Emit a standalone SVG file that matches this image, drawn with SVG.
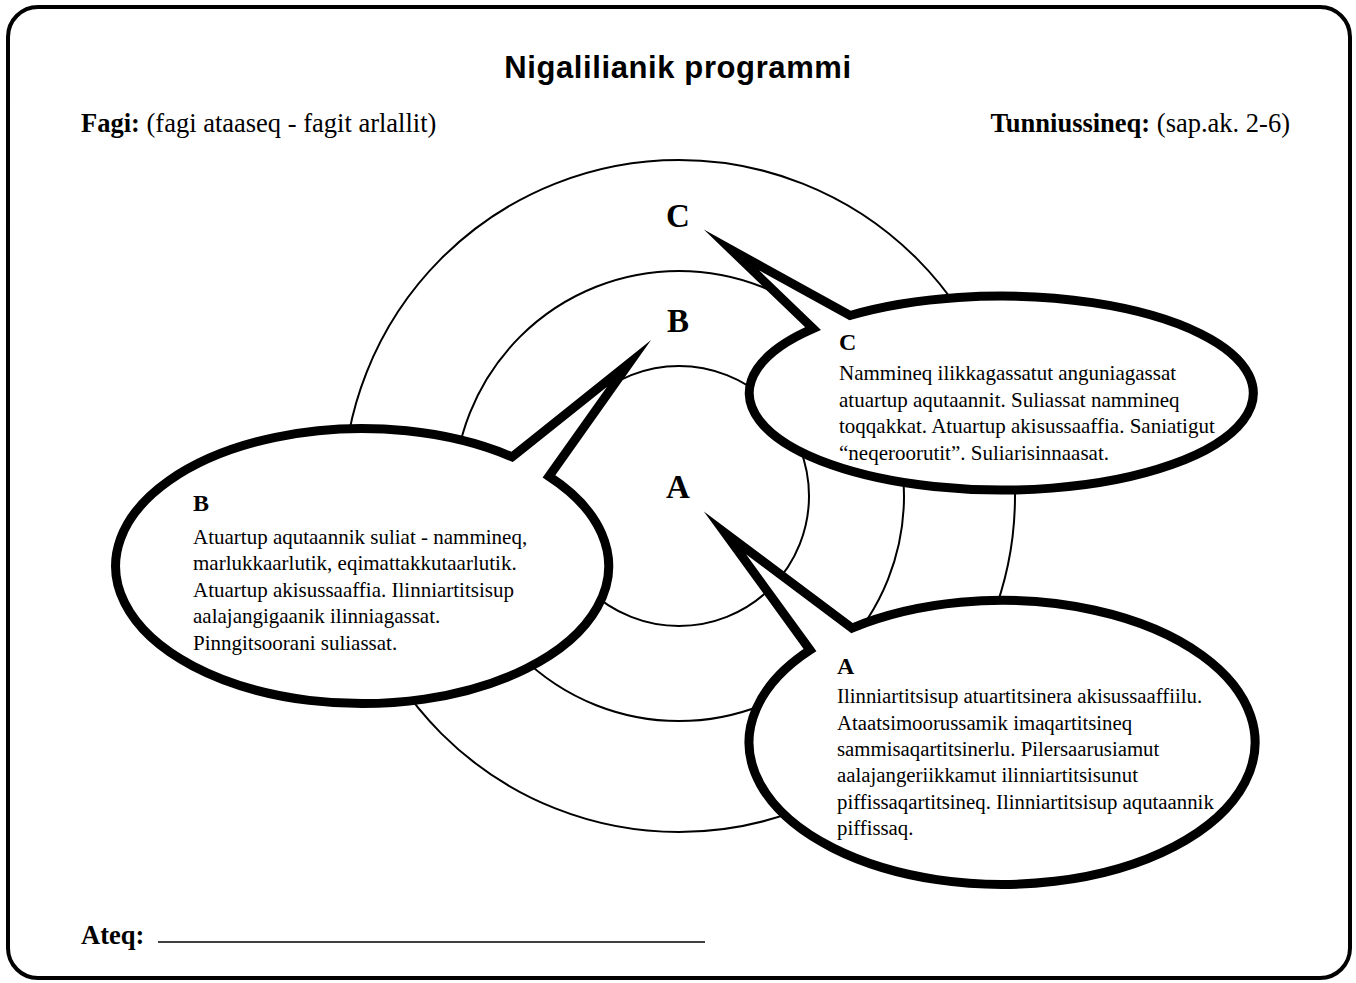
<svg xmlns="http://www.w3.org/2000/svg" width="1356" height="983" viewBox="0 0 1356 983">
<style>
.frame{fill:#fff;stroke:#000;stroke-width:4}
.ring{fill:none;stroke:#000;stroke-width:2}
.bubble{fill:#fff;stroke:#000;stroke-width:9;stroke-linejoin:miter;stroke-miterlimit:40}
.serif{font-family:"Liberation Serif","Times New Roman",serif;fill:#000}
.title{font-family:"Liberation Sans",Arial,sans-serif;font-weight:bold;font-size:31px;fill:#000}
.hdr{font-size:26.5px}
.big{font-size:33px;font-weight:bold}
.lbl{font-size:24px;font-weight:bold}
.body{font-size:21px}
.bodyA{font-size:20.8px}
.b{font-weight:bold}
</style>
<rect class="frame" x="8" y="7" width="1342" height="971" rx="30" ry="30"/>
<text class="title" x="678" y="78" text-anchor="middle" letter-spacing="0.6">Nigalilianik programmi</text>
<text class="serif hdr" x="81" y="132"><tspan class="b">Fagi:</tspan> (fagi ataaseq - fagit arlallit)</text>
<text class="serif hdr" x="1290" y="132" text-anchor="end"><tspan class="b">Tunniussineq:</tspan> (sap.ak. 2-6)</text>

<g id="rings">
<circle class="ring" cx="679" cy="496" r="336"/>
<circle class="ring" cx="679" cy="496" r="225"/>
<circle class="ring" cx="679" cy="496" r="130"/>
</g>
<g id="ring-labels">
<text class="serif big" x="678" y="227" text-anchor="middle">C</text>
<text class="serif big" x="678" y="332" text-anchor="middle">B</text>
<text class="serif big" x="678" y="498" text-anchor="middle">A</text>
</g>

<g id="connectors"></g>

<g id="bubble-C">
<path class="bubble" d="M813,328.6 L731.5,250 L850,315.5 A252 97 0 1 1 813,328.6 Z"/>
<text class="serif lbl" x="839" y="350">C</text>
<text class="serif body">
<tspan x="839" y="380">Nammineq ilikkagassatut anguniagassat</tspan>
<tspan x="839" y="406.5">atuartup aqutaannit. Suliassat nammineq</tspan>
<tspan x="839" y="433">toqqakkat. Atuartup akisussaaffia. Saniatigut</tspan>
<tspan x="839" y="459.5">“neqeroorutit”. Suliarisinnaasat.</tspan>
</text>
</g>

<g id="bubble-B">
<path class="bubble" d="M512,456.9 L629,363.5 L549,476.4 A246.5 137.5 0 1 1 512,456.9 Z"/>
<text class="serif lbl" x="193" y="511">B</text>
<text class="serif body">
<tspan x="193" y="543.5">Atuartup aqutaannik suliat - nammineq,</tspan>
<tspan x="193" y="570">marlukkaarlutik, eqimattakkutaarlutik.</tspan>
<tspan x="193" y="596.5">Atuartup akisussaaffia. Ilinniartitsisup</tspan>
<tspan x="193" y="623">aalajangigaanik ilinniagassat.</tspan>
<tspan x="193" y="649.5">Pinngitsoorani suliassat.</tspan>
</text>
</g>

<g id="bubble-A">
<path class="bubble" d="M810,650 L725,533 L852,628.1 A253 142 0 1 1 810,650 Z"/>
<text class="serif lbl" x="837" y="674">A</text>
<text class="serif bodyA">
<tspan x="837" y="703.3">Ilinniartitsisup atuartitsinera akisussaaffiilu.</tspan>
<tspan x="837" y="729.6">Ataatsimoorussamik imaqartitsineq</tspan>
<tspan x="837" y="755.9">sammisaqartitsinerlu. Pilersaarusiamut</tspan>
<tspan x="837" y="782.2">aalajangeriikkamut ilinniartitsisunut</tspan>
<tspan x="837" y="808.5">piffissaqartitsineq. Ilinniartitsisup aqutaannik</tspan>
<tspan x="837" y="834.8">piffissaq.</tspan>
</text>
</g>

<g id="footer">
<text class="serif hdr b" x="81" y="944">Ateq:</text>
<line x1="158" y1="942" x2="705" y2="942" stroke="#000" stroke-width="1.5"/>
</g>
</svg>
